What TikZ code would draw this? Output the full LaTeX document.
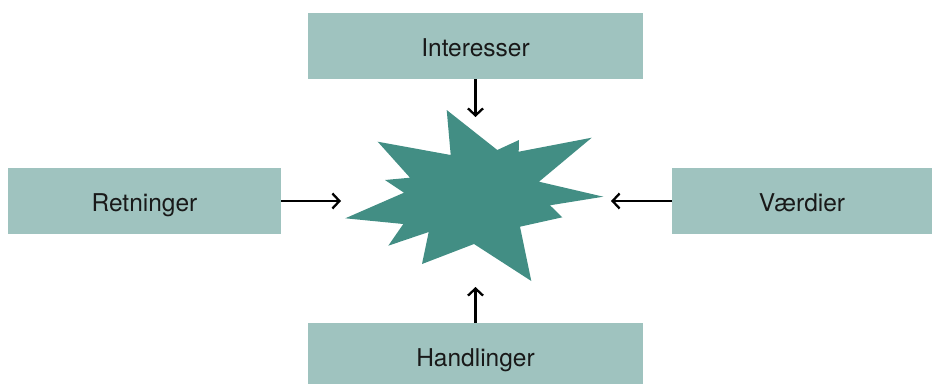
\documentclass[tikz,border=0pt]{standalone}
\usepackage{fontspec}
\setmainfont{TeX Gyre Heros}
\usetikzlibrary{arrows.meta}
\definecolor{boxfill}{HTML}{9FC3BF}
\definecolor{starfill}{HTML}{428E84}
\begin{document}
\begin{tikzpicture}[x=1pt,y=-1pt,
  box/.style={fill=boxfill, draw=none, minimum width=#1, minimum height=66pt, inner sep=0pt, text height=21.5pt, text depth=0pt, font=\fontsize{24.5}{28}\selectfont, text=black!90},
  conn/.style={line width=2.3pt, -{Straight Barb[length=7pt,width=15pt,line width=2.3pt]}}]
\useasboundingbox (0,0) rectangle (932,383);
\node[box=335pt] (int) at (475.5,46) {Interesser};
\node[box=335pt] (han) at (475.5,356) {Handlinger};
\node[box=273pt] (ret) at (144.5,201) {Retninger};
\node[box=260pt] (vae) at (802,201) {Værdier};
\coordinate (ctop) at (475.5,117);
\coordinate (cbot) at (475.5,287);
\coordinate (cleft) at (341,201);
\coordinate (cright) at (611,201);
\fill[starfill] (446.7,110) -- (497.3,150) -- (519,140) -- (518.7,151.7) -- (591.7,137.7)
  -- (539,181.7) -- (603.3,196.7) -- (550,205.3) -- (562.3,217.3) -- (520,226.7)
  -- (531.3,281) -- (474,244) -- (422,264) -- (428.7,232) -- (388.3,245.7)
  -- (403.3,224) -- (345.3,218.3) -- (404,192.7) -- (385,180) -- (410,177.7)
  -- (377.7,141.7) -- (450.7,155) -- cycle;
\draw[conn] (int.south) -- (ctop);
\draw[conn] (han.north) -- (cbot);
\draw[conn] (ret.east) -- (cleft);
\draw[conn] (vae.west) -- (cright);
\end{tikzpicture}
\end{document}
